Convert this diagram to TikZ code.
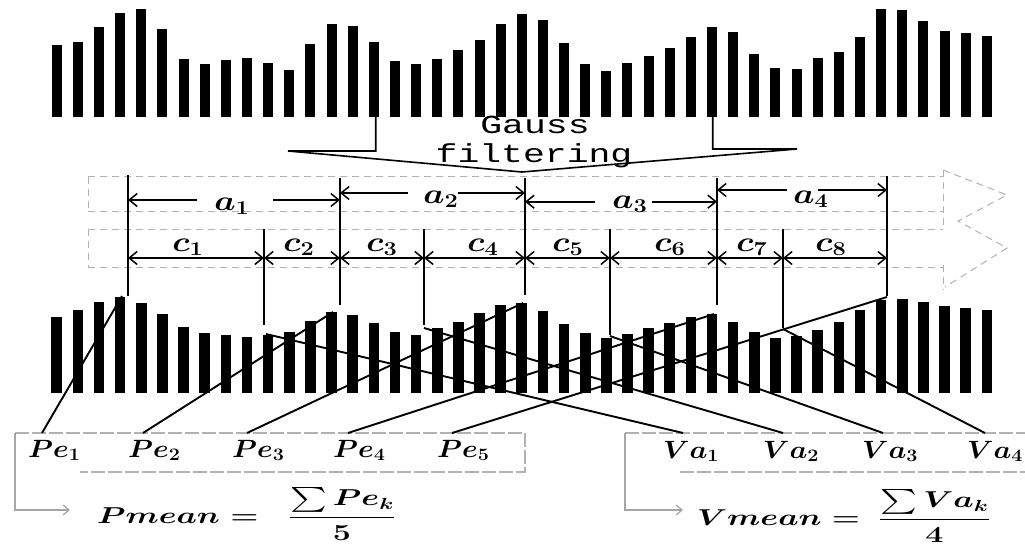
\RequirePackage{fix-cm}
\documentclass[tikz,border=0pt]{standalone}
\usepackage{amsmath}
\usepackage{graphicx}
\usepackage{fontspec}
\usetikzlibrary{arrows.meta}
\newfontfamily\gaussfont{Liberation Mono}
\newcommand{\stx}[1]{\scalebox{1.4}[1]{#1}}
\newcommand{\stl}[1]{\scalebox{1.2}[1]{#1}}
\newcommand{\stp}[1]{\scalebox{1.13}[1]{#1}}
\begin{document}
\begin{tikzpicture}[x=1pt,y=-1pt,
  mk/.style={line width=1.8pt},
  dimarr/.style={line width=1.6pt,-{Straight Barb[length=8pt,width=13pt,line width=1.5pt]}},
  cdim/.style={line width=1.6pt,{Straight Barb[length=8pt,width=13pt,line width=1.5pt]}-{Straight Barb[length=8pt,width=13pt,line width=1.5pt]}},
  band/.style={draw=gray!60, line width=1pt, dash pattern=on 7pt off 5pt},
  boxln/.style={draw=gray!60, line width=1.2pt, dash pattern=on 14pt off 3pt},
  boxarr/.style={draw=gray!70, line width=1.2pt,-{Straight Barb[length=6pt,width=10pt,line width=1.2pt]}},
  link/.style={line width=1.9pt},
  alab/.style={inner sep=0pt, anchor=base, font=\fontsize{28}{32}\selectfont\boldmath},
  plab/.style={inner sep=0pt, anchor=base west, font=\fontsize{25}{30}\selectfont},
  glab/.style={inner sep=0pt, anchor=base, font=\gaussfont\fontsize{26}{28}\selectfont},
]
\useasboundingbox (0,0) rectangle (1025,546);
\fill[white] (0,0) rectangle (1025,546);

% top bars
\foreach \t [count=\i from 0] in {45,41.7,26.7,13.3,9.3,29,59.3,64.3,60,58.3,62.7,70,44.3,24.3,25.7,42.3,61,64,59.3,50,40,24.3,14,20,43.3,64,71,62.7,55.7,48.3,37.3,27.3,32.3,54,68.3,69.3,57.7,52.3,36.7,9.3,10,21,31,32.7,36}
  \fill ({56.7+21.14*\i-5},\t) rectangle ({56.7+21.14*\i+5},117);
% bottom bars
\foreach \t [count=\i from 0] in {316.7,310,301.7,296.7,302.7,314,327.3,332.7,335,336.7,335,331.7,320.7,311.7,315,323.3,331.7,335,328.3,322.3,313.3,305,303.3,310.7,324,333.3,337.7,334,328.3,323.3,316.7,314.3,321.7,331.7,337.7,336,330,321.7,310,300,299,302.3,306,308.3,310}
  \fill ({56.7+21.14*\i-5.3},\t) rectangle ({56.7+21.14*\i+5.3},393);

% Gauss filtering funnel
\coordinate (gl0) at (375.7,117); \coordinate (gl1) at (375.7,151);
\coordinate (gl2) at (288,151);   \coordinate (gv) at (522,172);
\coordinate (gr2) at (797,149);   \coordinate (gr1) at (712.7,149);
\coordinate (gr0) at (712.7,117);
\draw[line width=1.6pt] (gl0) -- (gl1) -- (gl2) -- (gv) -- (gr2) -- (gr1) -- (gr0);
\node[glab] (g1) at (535,133) {\scalebox{1.4}[1]{Gauss}};
\node[glab] (g2) at (534,162) {\scalebox{1.4}[1]{filtering}};

% dashed bands
\draw[band] (88,176.7) -- (943,176.7);
\draw[band] (88,211.7) -- (943,211.7);
\draw[band] (88,176.7) -- (88,211.7);
\draw[band] (88,229.3) -- (943,229.3);
\draw[band] (88,267.3) -- (943,267.3);
\draw[band] (88,229.3) -- (88,267.3);
\draw[band] (943,170) -- (1007,195) -- (958,221) -- (1007,248) -- (945,287);
\draw[band] (943,170) -- (943,228);
\draw[band] (943,265) -- (943,290);

% markers
\foreach \n/\x/\a/\b in {1/128/175/296, 2/264/229/325, 3/340/178/305, 4/424/229/325, 5/525/178/295, 6/610/229/335, 7/717/178/305, 8/783/229/328, 9/887/176/296}{
  \coordinate (mt\n) at (\x,\a);
  \coordinate (mb\n) at (\x,\b);
  \coordinate (mc\n) at (\x,258);
  \draw[mk] (mt\n) -- (mb\n);
}

% a dimensions
\foreach \n/\l/\r/\y/\gl/\gr/\cx/\by in {1/1/3/200/197/273/232/210, 2/3/5/193/408/458/441/203, 3/5/7/201.7/595/652/630/208, 4/7/9/190/787/818/811/203}{
  \coordinate (aL\n) at (mt\l |- 0,\y);
  \coordinate (aR\n) at (mt\r |- 0,\y);
  \coordinate (gL\n) at (\gl,\y);
  \coordinate (gR\n) at (\gr,\y);
  \draw[dimarr] (gL\n) -- (aL\n);
  \draw[dimarr] (gR\n) -- (aR\n);
  \node[alab] (a\n) at (\cx,\by) {\stl{$a_{\n}$}};
}

% c dimensions
\foreach \n/\m/\cx in {1/2/188, 2/3/299, 3/4/382, 4/5/483, 5/6/568, 6/7/670, 7/8/752, 8/9/831}{
  \draw[cdim] (mc\n) -- (mc\m);
  \node[alab] (c\n) at (\cx,251) {\stl{$c_{\n}$}};
}

% Pe / Va labels
\foreach \n/\x in {1/28, 2/128, 3/232, 4/333, 5/437}
  \node[plab] (pe\n) at (\x,457) {\stp{\boldmath$Pe_{\n}$}};
\foreach \n/\x in {1/663, 2/763, 3/862, 4/967}
  \node[plab] (va\n) at (\x,458) {\stp{\boldmath$Va_{\n}$}};

% boxes
\draw[boxln] (15,433) -- (525,433) -- (525,472) -- (80,472);
\draw[boxarr] (15,433) -- (15,510) -- (70,510);
\draw[boxln] (625,433) -- (1025,433);
\draw[boxln] (680,472) -- (1025,472);
\draw[boxarr] (625,433) -- (625,510) -- (683,510);

% links to peaks
\foreach \n/\xa/\xb/\yb in {1/42/122/296, 2/143/333/312, 3/247/523/303, 4/348/714/314, 5/452/887/297}{
  \coordinate (pb\n) at (\xa,433);
  \coordinate (pk\n) at (\xb,\yb);
  \draw[link] (pb\n) -- (pk\n);
}
% links to valleys
\foreach \n/\xa/\xb/\yb in {1/683/266/334, 2/783/424/328, 3/883/610/336, 4/985/783/329}{
  \coordinate (vb\n) at (\xa,433);
  \coordinate (vk\n) at (\xb,\yb);
  \draw[link] (vb\n) -- (vk\n);
}

% formulas
\node[plab, font=\fontsize{23}{28}\selectfont] (pmean) at (97,523) {\stx{\boldmath$Pmean=\hspace{14pt}\dfrac{\sum Pe_k}{5}$}};
\node[plab, font=\fontsize{23}{28}\selectfont] (vmean) at (697,525) {\stx{\boldmath$Vmean=\hspace{6pt}\dfrac{\sum Va_k}{4}$}};
\end{tikzpicture}
\end{document}
